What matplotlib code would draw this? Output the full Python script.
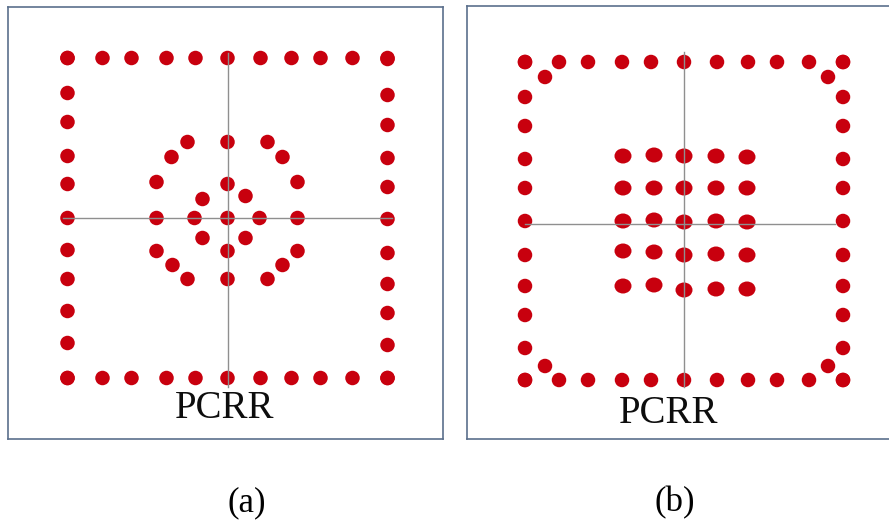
import matplotlib
matplotlib.use('Agg')
import matplotlib.pyplot as plt
from matplotlib.collections import EllipseCollection

# dot positions, offsets from the crosshair centre of each layout (y up)
ring_x = [-160, -125, -96, -61, -32, 0, 33, 64, 93, 125, 160]
a_left_y = [160, 125, 96, 62, 34, 0, -32, -61, -93, -125, -160]
a_right_y = [159, 123, 93, 60, 31, -1, -35, -66, -95, -127, -160]
a_top_y, a_bottom_y = 160, -160

a_inner_x = [-40, 0, 40, -56, 55, -71, 70, -71, -33, 0, 32, 70,
             0, -25, 18, -25, 18, 0, -71, 70, -55, 55, -40, 0, 40]
a_inner_y = [76, 76, 76, 61, 61, 36, 36, 0, 0, 0, 0, 0,
             34, 19, 22, -20, -20, -33, -33, -33, -47, -47, -61, -61, -61]

b_ring_x = [-159, -125, -96, -62, -33, 0, 33, 64, 93, 125, 159]
b_side_y = [162, 127, 98, 65, 36, 3, -31, -62, -91, -124, -156]
b_top_y, b_bottom_y = 162, -156
b_corner_x = [-139, 144, -139, 144]
b_corner_y = [147, 147, -142, -142]

grid_x = [-61, -30, 0, 32, 63]
grid_y = [[68, 36, 3, -27, -62],
          [69, 36, 4, -28, -61],
          [68, 36, 2, -31, -66],
          [68, 36, 3, -30, -65],
          [67, 36, 2, -31, -65]]

red = '#c8000e'
line_c = '#8f8f8f'
frame_c = '#5b6f8c'

fig = plt.figure(figsize=(8.89, 5.23), dpi=100)
W, H = 889, 523


def panel(left, top, right, bottom, cx, cy):
    ax = fig.add_axes([left / W, 1 - bottom / H, (right - left) / W, (bottom - top) / H])
    ax.set_xlim(left - cx, right - cx)
    ax.set_ylim(cy - bottom, cy - top)
    ax.set_xticks([])
    ax.set_yticks([])
    for s in ax.spines.values():
        s.set_color(frame_c)
        s.set_linewidth(1.2)
    return ax


def dots(ax, xs, ys, w=14.5, h=14.5):
    ec = EllipseCollection([w] * len(xs), [h] * len(xs), [0] * len(xs), units='xy',
                           offsets=list(zip(xs, ys)), offset_transform=ax.transData,
                           facecolors=red, edgecolors='none', zorder=2)
    ax.add_collection(ec)


# (a) square ring with octagonal inner cavity
ax1 = panel(8, 7, 443, 439, 227.5, 218)
dots(ax1, ring_x, [a_top_y] * len(ring_x))
dots(ax1, ring_x, [a_bottom_y] * len(ring_x))
dots(ax1, [-160] * len(a_left_y), a_left_y)
dots(ax1, [160] * len(a_right_y), a_right_y)
dots(ax1, a_inner_x, a_inner_y)
ax1.plot([0, 0], [165, -169], color=line_c, lw=1.0, zorder=3)
ax1.plot([-164.5, 164.5], [0, 0], color=line_c, lw=1.0, zorder=3)
ax1.text(-2.5, -200, 'PCRR', family='Liberation Serif', fontsize=28,
         ha='center', va='baseline', color='#0d0d0d')

# (b) rounded-corner ring with 5x5 inner rods
ax2 = panel(467, 6, 905, 439, 684, 224)
dots(ax2, b_ring_x, [b_top_y] * len(b_ring_x))
dots(ax2, b_ring_x, [b_bottom_y] * len(b_ring_x))
dots(ax2, [-159] * len(b_side_y), b_side_y)
dots(ax2, [159] * len(b_side_y), b_side_y)
dots(ax2, b_corner_x, b_corner_y)
for gx, col in zip(grid_x, grid_y):
    dots(ax2, [gx] * len(col), col, w=17, h=15)
ax2.plot([0, 0], [172, -163], color=line_c, lw=1.0, zorder=3)
ax2.plot([-159, 151], [0, 0], color=line_c, lw=1.0, zorder=3)
ax2.text(-15, -199, 'PCRR', family='Liberation Serif', fontsize=28,
         ha='center', va='baseline', color='#0d0d0d')

fig.text(247 / W, 1 - 503 / H, '(a)', family='Liberation Serif', fontsize=25,
         ha='center', va='center')
fig.text(675 / W, 1 - 503 / H, '(b)', family='Liberation Serif', fontsize=25,
         ha='center', va='center')

fig.savefig('out.png', dpi=100)
